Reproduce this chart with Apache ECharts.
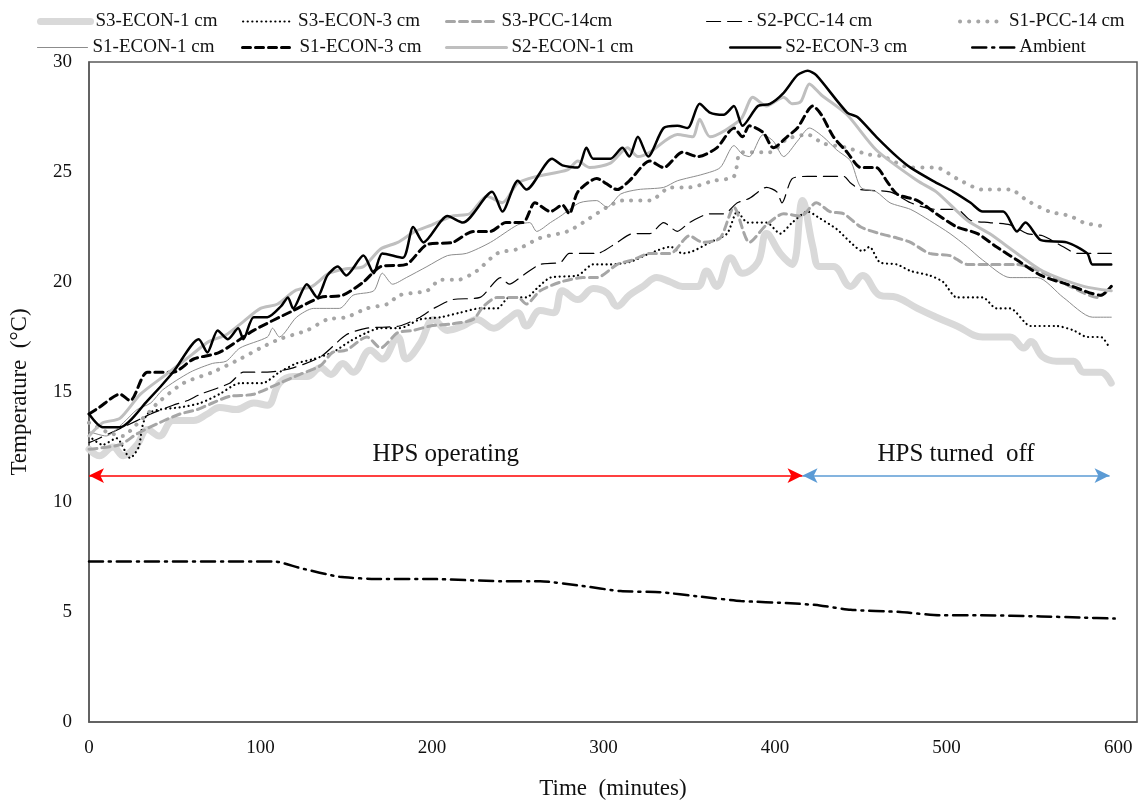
<!DOCTYPE html>
<html>
<head>
<meta charset="utf-8">
<title>HPS slab temperatures</title>
<script src="https://cdn.jsdelivr.net/npm/echarts@6/dist/echarts.min.js"></script>
<style>
html, body { margin: 0; padding: 0; background: #fff; }
#main { width: 1148px; height: 809px; }
</style>
</head>
<body>
<div id="main"></div>
<script>
// [time (min), temperature (°C)]
var s3Econ1 = [[0,12.4],[6,12.1],[14,12.5],[20,12.1],[28,12.6],[34,13.3],[41,13.0],[49,13.7],[61,13.7],[69,14.0],[76,14.3],[86,14.2],[96,14.5],[104,14.4],[111,15.4],[119,15.7],[127,15.7],[135,16.1],[141,15.8],[148,16.3],[154,15.9],[164,16.9],[171,16.5],[180,17.5],[185,16.5],[193,17.2],[201,18.3],[209,17.8],[218,18.0],[226,18.3],[236,17.9],[244,18.3],[250,18.6],[255,18.0],[263,18.7],[271,18.6],[276,19.6],[285,19.2],[294,19.7],[302,19.5],[308,18.9],[315,19.4],[323,19.8],[331,20.2],[339,20.0],[346,19.8],[355,19.8],[360,20.5],[366,19.8],[374,21.1],[381,20.4],[390,20.9],[395,22.2],[403,21.3],[410,20.8],[416,23.7],[422,21.6],[426,20.7],[434,20.7],[444,19.8],[451,20.3],[461,19.4],[471,19.3],[483,18.8],[494,18.4],[506,18.0],[521,17.5],[537,17.5],[545,17.0],[549,17.3],[556,16.6],[564,16.4],[574,16.4],[580,15.9],[590,15.9],[596,15.4]];
var s3Econ3 = [[0,13.0],[8,12.6],[16,12.9],[24,12.0],[29,12.5],[31,13.4],[34,14.0],[41,14.2],[53,14.3],[65,14.5],[76,14.9],[88,15.4],[101,15.4],[111,15.9],[121,16.3],[131,16.5],[142,16.8],[152,17.3],[162,17.7],[170,17.9],[181,17.9],[193,18.3],[205,18.4],[216,18.6],[228,18.8],[238,18.8],[245,19.3],[255,19.3],[261,19.7],[269,20.2],[285,20.3],[294,20.8],[304,20.8],[315,20.9],[327,21.3],[339,21.6],[346,21.3],[352,21.4],[362,21.8],[372,22.2],[378,23.2],[384,22.7],[395,22.7],[403,22.2],[410,22.7],[419,23.2],[426,22.9],[436,22.4],[444,21.8],[451,21.4],[455,21.6],[461,20.9],[471,20.8],[479,20.5],[490,20.3],[498,20.0],[506,19.3],[521,19.3],[529,18.8],[537,18.8],[549,18.0],[564,18.0],[574,17.8],[582,17.5],[590,17.5],[595,17.0]];
var s3Pcc14 = [[0,12.4],[18,12.6],[28,13.1],[41,13.6],[53,14.0],[63,14.2],[72,14.5],[82,14.8],[96,14.9],[111,15.4],[123,15.8],[135,16.2],[142,16.8],[150,16.9],[162,17.5],[170,17.0],[180,17.7],[189,17.8],[199,18.0],[212,18.1],[224,18.3],[230,18.9],[238,19.3],[250,19.3],[255,19.0],[263,19.6],[275,20.0],[288,20.2],[296,20.2],[308,20.8],[317,21.0],[327,21.3],[339,21.3],[350,22.1],[358,21.8],[368,22.0],[376,23.4],[385,21.8],[395,22.6],[405,23.1],[415,23.0],[424,23.6],[432,23.2],[440,23.1],[450,22.5],[461,22.2],[471,22.0],[479,21.8],[490,21.3],[502,21.2],[512,20.8],[525,20.8],[541,20.8],[560,20.3],[572,19.8],[588,19.3],[596,19.8]];
var s2Pcc14 = [[0,12.7],[6,12.9],[28,13.7],[36,14.0],[49,14.4],[57,14.6],[65,14.9],[82,15.4],[90,15.9],[104,15.9],[119,16.1],[135,16.6],[150,17.6],[162,17.9],[181,18.0],[193,18.4],[201,18.8],[212,19.2],[228,19.3],[240,20.2],[245,19.9],[253,20.3],[263,20.8],[275,20.9],[280,21.3],[296,21.3],[308,21.8],[317,22.2],[327,22.2],[335,22.7],[343,22.3],[350,22.7],[362,23.1],[370,23.1],[378,23.6],[385,23.8],[395,24.3],[401,24.1],[404,23.6],[410,24.7],[419,24.8],[440,24.8],[444,24.5],[450,24.2],[467,24.1],[479,23.6],[494,23.3],[506,23.3],[514,22.8],[525,22.7],[537,22.6],[547,22.2],[556,22.1],[568,21.6],[576,21.3],[596,21.3]];
var s1Pcc14 = [[0,13.6],[10,13.2],[20,13.0],[26,13.4],[34,14.0],[40,14.5],[55,15.4],[72,15.9],[88,16.5],[100,17.0],[111,17.4],[127,17.8],[139,18.3],[150,18.4],[162,18.8],[174,19.0],[181,19.4],[197,19.6],[205,20.1],[215,20.1],[226,20.5],[238,21.3],[250,21.5],[263,22.0],[279,22.3],[288,22.7],[302,23.4],[311,23.7],[327,23.7],[339,24.3],[350,24.3],[364,24.6],[376,24.8],[380,25.9],[397,25.9],[407,26.5],[419,26.7],[428,26.3],[442,26.1],[454,25.8],[463,25.7],[479,25.2],[494,25.2],[506,24.7],[521,24.2],[537,24.2],[547,23.7],[560,23.2],[572,23.0],[580,22.7],[594,22.5]];
var s1Econ1 = [[0,13.2],[10,13.0],[20,13.6],[28,14.2],[36,14.5],[43,15.1],[59,15.9],[72,16.3],[80,16.4],[88,17.0],[104,17.5],[107,17.9],[111,17.5],[121,18.4],[131,18.8],[146,18.8],[154,19.4],[166,19.6],[171,20.4],[177,19.9],[185,20.2],[197,20.7],[209,21.2],[220,21.3],[234,21.8],[250,22.6],[257,22.7],[261,22.3],[269,22.7],[275,23.0],[286,23.6],[296,23.7],[302,23.4],[310,24.0],[320,24.2],[335,24.3],[343,24.6],[358,24.9],[368,25.2],[376,26.2],[381,25.8],[385,25.7],[393,26.7],[399,26.4],[405,25.7],[413,26.4],[420,27.0],[428,26.6],[436,26.0],[444,25.5],[450,24.3],[459,24.1],[467,23.6],[479,23.3],[490,22.8],[502,22.2],[512,21.6],[521,21.0],[537,20.2],[553,20.2],[568,19.3],[585,18.4],[596,18.4]];
var s1Econ3 = [[0,14.0],[6,14.3],[18,14.9],[24,14.6],[34,15.9],[49,15.9],[61,16.5],[76,16.8],[96,17.8],[119,18.7],[135,19.3],[148,19.4],[160,20.0],[170,20.7],[185,20.8],[197,21.7],[212,21.8],[224,22.3],[234,22.3],[243,22.7],[253,22.7],[260,23.6],[269,23.2],[276,23.5],[280,23.1],[285,24.1],[296,24.7],[308,24.2],[315,24.6],[327,25.5],[335,25.2],[346,25.9],[355,25.7],[366,26.1],[376,27.0],[381,26.6],[385,27.1],[393,26.8],[399,26.1],[407,26.6],[413,27.0],[422,28.0],[427,27.6],[434,26.6],[442,25.9],[450,25.2],[459,25.2],[465,24.6],[471,24.0],[483,23.7],[494,23.1],[506,22.5],[518,22.2],[529,21.6],[541,21.0],[555,20.3],[570,19.9],[590,19.4],[596,19.8]];
var s2Econ1 = [[0,13.0],[8,13.6],[18,13.8],[30,14.9],[45,15.8],[60,16.7],[70,17.3],[80,17.6],[90,18.2],[100,18.8],[110,19.0],[120,19.6],[130,19.8],[140,20.4],[150,20.6],[160,20.7],[170,21.5],[180,21.8],[190,22.3],[200,22.6],[212,23.0],[222,23.1],[232,23.9],[241,23.6],[250,24.5],[261,24.8],[279,25.1],[285,25.5],[292,25.2],[304,25.4],[314,26.1],[320,25.7],[327,25.9],[343,26.7],[352,26.6],[356,27.4],[362,26.6],[380,27.4],[387,28.4],[395,28.0],[405,28.4],[410,28.1],[415,28.2],[420,29.0],[427,28.5],[442,27.6],[459,26.0],[483,24.6],[494,24.1],[512,22.8],[525,22.2],[541,21.3],[556,20.5],[580,19.8],[596,19.6]];
var s2Econ3 = [[0,14.0],[8,13.4],[18,13.4],[34,14.6],[49,15.9],[64,17.4],[69,16.8],[75,17.8],[81,17.4],[87,17.9],[90,17.4],[96,18.4],[104,18.4],[112,18.9],[116,19.3],[119,18.8],[127,19.9],[133,19.3],[139,20.3],[145,20.7],[150,20.3],[160,21.2],[166,20.4],[171,21.3],[183,21.1],[189,22.5],[195,21.8],[209,23.0],[218,22.7],[235,24.1],[241,23.2],[250,24.6],[255,24.2],[270,25.6],[276,25.3],[285,25.2],[290,26.1],[294,25.6],[304,25.6],[311,26.1],[315,25.7],[320,26.6],[326,25.7],[335,27.0],[343,27.1],[349,27.0],[356,28.1],[362,27.7],[370,27.6],[376,28.0],[381,27.1],[390,28.0],[397,28.1],[405,28.6],[413,29.4],[419,29.6],[424,29.4],[442,27.7],[448,27.5],[459,26.6],[471,25.7],[479,25.2],[492,24.6],[504,24.1],[514,23.6],[521,23.2],[533,23.2],[541,22.3],[546,22.7],[555,21.9],[570,21.8],[582,21.3],[585,20.8],[596,20.8]];
var ambient = [[0,7.3],[108,7.3],[123,7.0],[146,6.6],[170,6.5],[199,6.5],[240,6.4],[263,6.4],[286,6.2],[310,5.95],[333,5.9],[356,5.7],[380,5.5],[409,5.4],[426,5.3],[444,5.1],[473,5.0],[496,4.85],[520,4.85],[555,4.8],[578,4.75],[598,4.7]];

// HPS on / off arrows
var arrowLevel = 11.2;
var hpsOn = [0, 416];
var hpsOff = [416, 595];

var FONT = 'Liberation Serif';

var myChart = echarts.init(document.getElementById('main'));

function line(name, data, color, width, type, smooth) {
	return {
		name: name,
		type: 'line',
		data: data,
		symbol: 'none',
		showSymbol: false,
		smooth: smooth === undefined ? 0.25 : smooth,
		lineStyle: { color: color, width: width, type: type, cap: 'round' },
		itemStyle: { color: color }
	};
}

// one legend per entry so the 5x2 layout lines up like the original
// (itemStyle opacity 0 hides the marker echarts puts on line icons)
function legendAt(name, left, top, w, lw) {
	return {
		data: [name],
		left: left,
		top: top,
		itemWidth: w,
		itemHeight: 14,
		selectedMode: false,
		itemStyle: { opacity: 0 },
		lineStyle: { width: lw },
		textStyle: { fontFamily: FONT, fontSize: 19, color: '#111' }
	};
}

var series = [
	line('S3-ECON-1 cm', s3Econ1, '#d9d9d9', 7, 'solid', 0.4),
	line('S3-ECON-3 cm', s3Econ3, '#000', 2.2, [0.1, 4.5]),
	line('S3-PCC-14cm', s3Pcc14, '#a6a6a6', 3, [8, 5]),
	line('S2-PCC-14 cm', s2Pcc14, '#000', 1.2, [14, 7]),
	line('S1-PCC-14 cm', s1Pcc14, '#a6a6a6', 4, [0.1, 9]),
	line('S1-ECON-1 cm', s1Econ1, '#8c8c8c', 1, 'solid'),
	line('S1-ECON-3 cm', s1Econ3, '#000', 3, [8, 5]),
	line('S2-ECON-1 cm', s2Econ1, '#bfbfbf', 3, 'solid'),
	line('S2-ECON-3 cm', s2Econ3, '#000', 2.5, 'solid'),
	line('Ambient', ambient, '#000', 2.5, [14, 6, 2, 6], 0.2)
];

series[9].markLine = {
	silent: true,
	animation: false,
	symbol: ['arrow', 'arrow'],
	symbolSize: [11, 15],
	label: {
		show: true,
		position: 'middle',
		distance: 9,
		color: '#111',
		fontFamily: FONT,
		fontSize: 25
	},
	data: [
		[
			{ coord: [hpsOn[0], arrowLevel], lineStyle: { color: '#ff0000', width: 1.5, type: 'solid' }, label: { formatter: 'HPS operating' } },
			{ coord: [hpsOn[1], arrowLevel] }
		],
		[
			{ coord: [hpsOff[0], arrowLevel], lineStyle: { color: '#5b9bd5', width: 1.5, type: 'solid' }, label: { formatter: 'HPS turned  off' } },
			{ coord: [hpsOff[1], arrowLevel] }
		]
	]
};

var option = {
	animation: false,
	backgroundColor: '#fff',
	legend: [
		legendAt('S3-ECON-1 cm', 32, 7, 50, 7),
		legendAt('S3-ECON-3 cm', 237, 7, 50, 2.2),
		legendAt('S3-PCC-14cm', 440, 7, 50, 3),
		legendAt('S2-PCC-14 cm', 701, 7, 45, 1.2),
		legendAt('S1-PCC-14 cm', 953, 7, 44, 4),
		legendAt('S1-ECON-1 cm', 32, 33, 50, 1),
		legendAt('S1-ECON-3 cm', 236, 33, 52, 3),
		legendAt('S2-ECON-1 cm', 440, 33, 60, 3),
		legendAt('S2-ECON-3 cm', 724, 33, 50, 2.5),
		legendAt('Ambient', 966, 33, 42, 2.5)
	],
	grid: {
		left: 89,
		right: 11,
		top: 62,
		bottom: 87,
		show: true,
		borderColor: '#595959',
		borderWidth: 1.5
	},
	xAxis: {
		type: 'value',
		min: 0,
		max: 611,
		interval: 100,
		name: 'Time  (minutes)',
		nameLocation: 'middle',
		nameGap: 55,
		nameTextStyle: { fontFamily: FONT, fontSize: 23, color: '#111' },
		axisLine: { show: true, lineStyle: { color: '#595959', width: 1.5 } },
		axisTick: { show: false },
		splitLine: { show: false },
		axisLabel: {
			margin: 17,
			fontFamily: FONT,
			fontSize: 19,
			color: '#111',
			formatter: function (v) { return v % 100 === 0 ? String(v) : ''; }
		}
	},
	yAxis: {
		type: 'value',
		min: 0,
		max: 30,
		interval: 5,
		name: 'Temperature  (°C)',
		nameLocation: 'middle',
		nameGap: 58,
		nameTextStyle: { fontFamily: FONT, fontSize: 23, color: '#111' },
		axisLine: { show: true, lineStyle: { color: '#595959', width: 1.5 } },
		axisTick: { show: false },
		splitLine: { show: false },
		axisLabel: { margin: 17, fontFamily: FONT, fontSize: 19, color: '#111' }
	},
	series: series
};

myChart.setOption(option);

window.addEventListener('resize', function () {
	myChart.resize();
});
</script>
</body>
</html>
